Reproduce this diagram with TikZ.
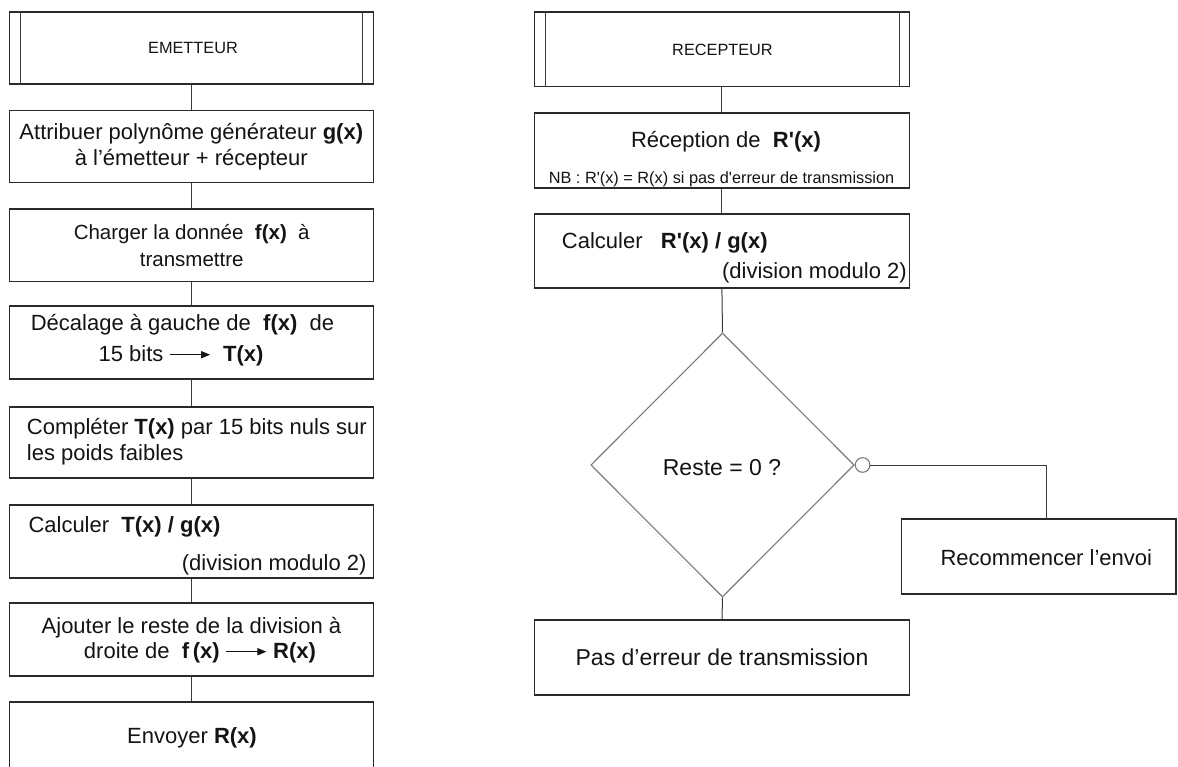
\documentclass[tikz,border=0pt]{standalone}
\usepackage{fontspec}
\setmainfont{Liberation Sans}
\usetikzlibrary{shapes.geometric,arrows.meta}
\definecolor{boxc}{HTML}{2A2A2A}
\definecolor{linec}{HTML}{3A3A3A}
\definecolor{diac}{HTML}{7A7A7A}
\definecolor{txt}{HTML}{141414}
\newcommand{\rarr}{\tikz[baseline=-0.6ex]\draw[txt,line width=1.3pt,-{Triangle[length=9pt,width=7pt]}] (0pt,0pt)--(40pt,0pt);}
\newcommand{\qs}{\textquotesingle}
\begin{document}
\begin{tikzpicture}[x=1pt,y=-1pt,
  box/.style={draw=boxc,line width=1.2pt,rectangle,inner sep=0pt,fill=white},
  conn/.style={draw=linec,line width=1pt},
  body/.style={text=txt,font=\fontsize{22}{26.5}\selectfont,inner sep=0pt},
  big/.style={text=txt,font=\fontsize{23}{27}\selectfont,inner sep=0pt},
  small/.style={text=txt,font=\fontsize{16.3}{19}\selectfont,inner sep=0pt}]
\useasboundingbox (0,0) rectangle (1178,767);
\begin{scope}
\clip (0,0) rectangle (1178,767);
% ---------------- left column ----------------
\node[box,minimum width=364pt,minimum height=72pt] (e0) at (191.3,48) {};
\node[box,minimum width=364pt,minimum height=72pt] (e1) at (191.3,146.7) {};
\node[box,minimum width=364pt,minimum height=72.7pt] (e2) at (191.3,245.3) {};
\node[box,minimum width=364pt,minimum height=73pt] (e3) at (191.3,342.5) {};
\node[box,minimum width=364pt,minimum height=71pt] (e4) at (191.3,442.5) {};
\node[box,minimum width=364pt,minimum height=73pt] (e5) at (191.3,541.5) {};
\node[box,minimum width=364pt,minimum height=73pt] (e6) at (191.3,639.5) {};
\node[box,minimum width=364pt,minimum height=74pt] (e7) at (191.3,739) {};
\draw[conn] ([xshift=12pt]e0.north west) -- ([xshift=12pt]e0.south west);
\draw[conn] ([xshift=-11pt]e0.north east) -- ([xshift=-11pt]e0.south east);
\foreach \a/\b in {e0/e1,e1/e2,e2/e3,e3/e4,e4/e5,e5/e6,e6/e7}
  \draw[conn] (\a.south) -- (\b.north);

\node[small] (te0) at (193,48) {EMETTEUR};
\node[body,align=center] (te1) at (191.3,146.5) {Attribuer polynôme générateur \textbf{g(x)}\\à l’émetteur + récepteur};
\node[body,align=center,font=\fontsize{20.5}{26.5}\selectfont] (te2) at (191.7,245.8) {Charger la donnée \ \textbf{f(x)} \ à\\transmettre};
\node[body] (te3a) at (182.5,325) {Décalage à gauche de \ \textbf{f(x)} \ de};
\node[body] (te3b) at (181,356) {15 bits \rarr\ \ \textbf{T(x)}};
\node[body,align=left,anchor=west] (te4) at (26.7,441.5) {Compléter \textbf{T(x)} par 15 bits nuls sur\\les poids faibles};
\node[body,anchor=west] (te5a) at (28.3,526.7) {Calculer \ \textbf{T(x) / g(x)}};
\node[body,anchor=east] (te5b) at (366.7,565) {(division modulo 2)};
\node[body] (te6a) at (191.5,628) {Ajouter le reste de la division à};
\node[body] (te6b) at (200,653) {droite de \ \textbf{f\,(x)} \rarr\ \textbf{R(x)}};
\node[body] (te7) at (192,738) {Envoyer \textbf{R(x)}};

% ---------------- right column ----------------
\node[box,minimum width=375pt,minimum height=74.7pt] (r0) at (721.9,49.3) {};
\node[box,minimum width=375pt,minimum height=75pt] (r1) at (721.9,150.5) {};
\node[box,minimum width=375pt,minimum height=74pt] (r2) at (721.9,251) {};
\node[draw=diac,line width=1.1pt,diamond,minimum width=263.4pt,minimum height=264pt,inner sep=0pt,fill=white] (d) at (722.5,465) {};
\node[box,minimum width=375.7pt,minimum height=75pt] (r3) at (722,657.5) {};
\node[box,minimum width=274.3pt,minimum height=75pt] (rc) at (1038.9,556.5) {};
\node[circle,draw=diac,line width=1.1pt,fill=white,minimum size=14.6pt,inner sep=0pt,anchor=west] (c) at (d.east) {};
\draw[conn] ([xshift=11.5pt]r0.north west) -- ([xshift=11.5pt]r0.south west);
\draw[conn] ([xshift=-10.5pt]r0.north east) -- ([xshift=-10.5pt]r0.south east);
\draw[conn] (r0.south) -- (r1.north);
\draw[conn] (r1.south) -- (r2.north);
\draw[conn] (r2.south) -- (d.north);
\draw[conn] (d.south) -- (r3.north);
\draw[conn] (c.east) -| ([xshift=7.8pt]rc.north);

\node[small] (tr0) at (722.5,50) {RECEPTEUR};
\node[body] (tr1) at (726,141.7) {Réception de \ \textbf{R\qs(x)}};
\node[small] (tr1b) at (721.5,179.3) {NB : R\qs(x) = R(x) si pas d\qs erreur de transmission};
\node[body,anchor=west] (tr2a) at (561.7,243) {Calculer \ \ \textbf{R\qs(x) / g(x)}};
\node[body,anchor=east] (tr2b) at (907,273) {(division modulo 2)};
\node[big] (td) at (722,468) {Reste = 0 ?};
\node[body] (trc) at (1046.3,558) {Recommencer l’envoi};
\node[big] (tr3) at (722,657) {Pas d’erreur de transmission};
\end{scope}
\end{tikzpicture}
\end{document}
